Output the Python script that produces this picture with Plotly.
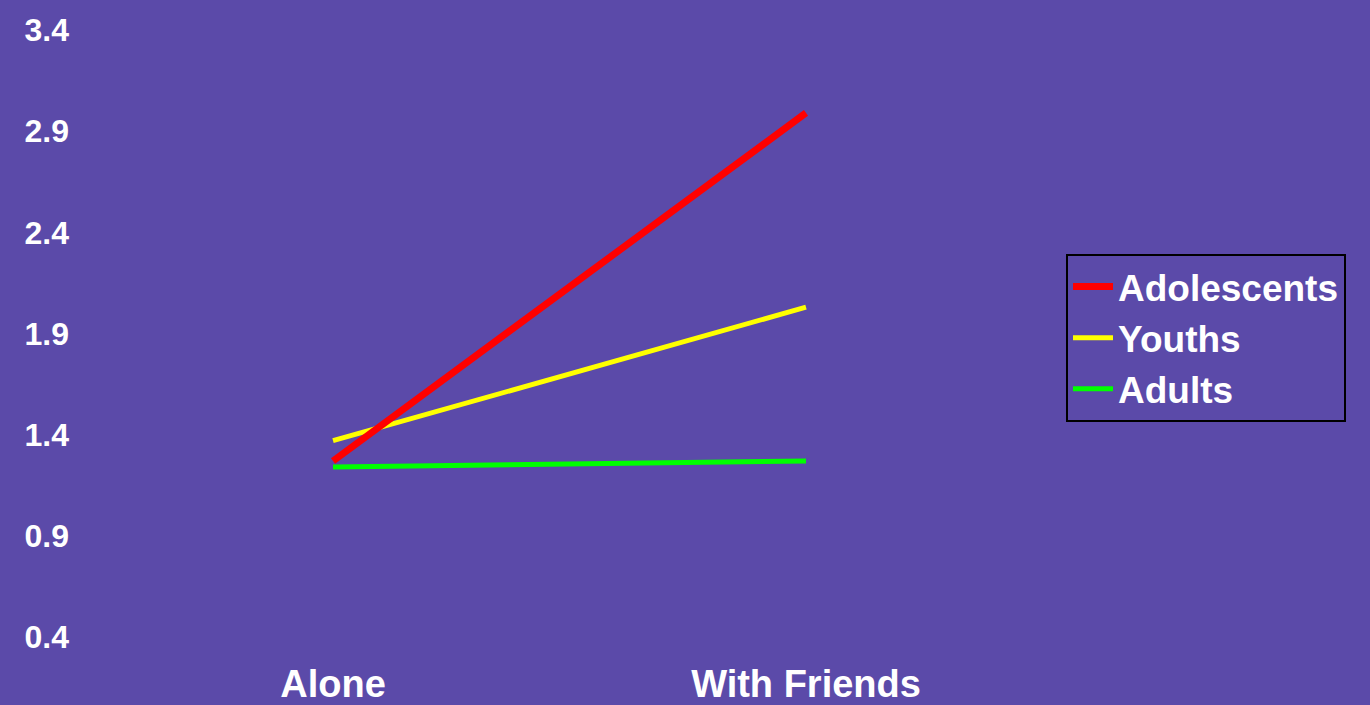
import plotly.graph_objects as go

categories = ["Alone", "With Friends"]
adolescents = [1.27, 2.99]
youths = [1.37, 2.03]
adults = [1.24, 1.27]
y_ticks = [0.4, 0.9, 1.4, 1.9, 2.4, 2.9, 3.4]

BG = "#5b4aa9"
FONT = "Arial, Liberation Sans, sans-serif"

fig = go.Figure()
fig.add_trace(go.Scatter(x=categories, y=adults, name="Adults", mode="lines",
                         line=dict(color="#00ff00", width=5)))
fig.add_trace(go.Scatter(x=categories, y=youths, name="Youths", mode="lines",
                         line=dict(color="#ffff00", width=5)))
fig.add_trace(go.Scatter(x=categories, y=adolescents, name="Adolescents", mode="lines",
                         line=dict(color="#ff0000", width=7)))

L, B = 70, 50
PW, PH = 1370 - L, 705 - B

fig.update_layout(
    width=1370, height=705,
    paper_bgcolor=BG, plot_bgcolor=BG,
    margin=dict(l=L, r=0, t=0, b=B, autoexpand=False),
    font=dict(family=FONT, color="white", weight="bold"),
    showlegend=True,
    legend=dict(
        traceorder="reversed",
        xref="paper", yref="paper",
        x=(1066 - L) / PW, y=1 - 254 / PH, xanchor="left", yanchor="top",
        bgcolor="rgba(0,0,0,0)", bordercolor="black", borderwidth=2,
        font=dict(size=37, color="white", family=FONT, weight="bold"),
        itemwidth=40, tracegroupgap=0,
    ),
)
fig.update_xaxes(
    type="category", range=[-(333 - L) / 473, 1 + (1370 - 806) / 473],
    showgrid=False, zeroline=False, showline=False, ticks="",
    ticklabelstandoff=3,
    tickfont=dict(size=38, color="white", family=FONT, weight="bold"),
)
fig.update_yaxes(
    range=[0.311, 3.548], tickvals=y_ticks,
    ticktext=[f"{v:.1f}" for v in y_ticks],
    showgrid=False, zeroline=False, showline=False, ticks="",
    tickfont=dict(size=32, color="white", family=FONT, weight="bold"),
)

fig.write_html("out.html", config={"displayModeBar": False},
               post_script="document.body.style.margin='0';")
